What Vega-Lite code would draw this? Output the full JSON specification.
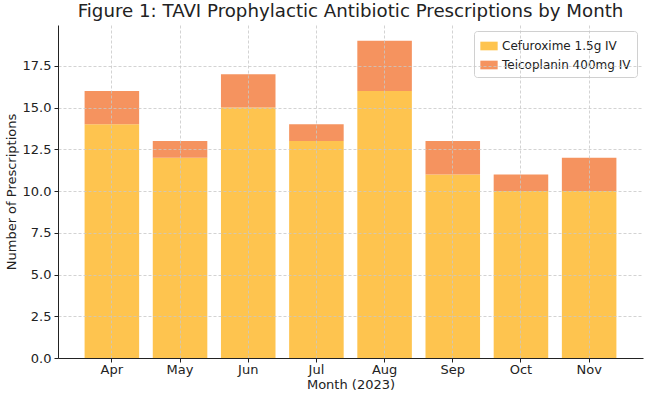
{
  "$schema": "https://vega.github.io/schema/vega-lite/v6.json",
  "width": 585,
  "height": 333,
  "autosize": {"type": "none"},
  "padding": {"left": 58, "top": 25, "right": 7, "bottom": 38},
  "config": {
    "font": "DejaVu Sans",
    "view": {"stroke": null},
    "axis": {
      "labelFont": "DejaVu Sans",
      "titleFont": "DejaVu Sans",
      "labelFontSize": 13,
      "titleFontSize": 13,
      "labelColor": "#222",
      "titleColor": "#222",
      "titleFontWeight": "normal",
      "domainColor": "#222",
      "tickColor": "#222",
      "gridColor": "#c8c8c8",
      "gridDash": [3, 2],
      "gridWidth": 0.8
    }
  },
  "title": {
    "text": "Figure 1: TAVI Prophylactic Antibiotic Prescriptions by Month",
    "font": "DejaVu Sans",
    "fontSize": 18.2,
    "fontWeight": "normal",
    "color": "#222",
    "offset": 4,
    "anchor": "middle"
  },
  "data": {
    "values": [
      {"month": "Apr", "drug": "Cefuroxime 1.5g IV", "n": 14, "o": 1},
      {"month": "Apr", "drug": "Teicoplanin 400mg IV", "n": 2, "o": 2},
      {"month": "May", "drug": "Cefuroxime 1.5g IV", "n": 12, "o": 1},
      {"month": "May", "drug": "Teicoplanin 400mg IV", "n": 1, "o": 2},
      {"month": "Jun", "drug": "Cefuroxime 1.5g IV", "n": 15, "o": 1},
      {"month": "Jun", "drug": "Teicoplanin 400mg IV", "n": 2, "o": 2},
      {"month": "Jul", "drug": "Cefuroxime 1.5g IV", "n": 13, "o": 1},
      {"month": "Jul", "drug": "Teicoplanin 400mg IV", "n": 1, "o": 2},
      {"month": "Aug", "drug": "Cefuroxime 1.5g IV", "n": 16, "o": 1},
      {"month": "Aug", "drug": "Teicoplanin 400mg IV", "n": 3, "o": 2},
      {"month": "Sep", "drug": "Cefuroxime 1.5g IV", "n": 11, "o": 1},
      {"month": "Sep", "drug": "Teicoplanin 400mg IV", "n": 2, "o": 2},
      {"month": "Oct", "drug": "Cefuroxime 1.5g IV", "n": 10, "o": 1},
      {"month": "Oct", "drug": "Teicoplanin 400mg IV", "n": 1, "o": 2},
      {"month": "Nov", "drug": "Cefuroxime 1.5g IV", "n": 10, "o": 1},
      {"month": "Nov", "drug": "Teicoplanin 400mg IV", "n": 2, "o": 2}
    ]
  },
  "mark": {"type": "bar"},
  "encoding": {
    "x": {
      "field": "month",
      "type": "nominal",
      "sort": ["Apr", "May", "Jun", "Jul", "Aug", "Sep", "Oct", "Nov"],
      "scale": {"paddingInner": 0.2, "paddingOuter": 0.39},
      "axis": {
        "title": "Month (2023)",
        "labelAngle": 0,
        "labelPadding": 1,
        "titlePadding": 2,
        "tickSize": 4,
        "bandPosition": 0.5,
        "grid": true,
        "zindex": 1
      }
    },
    "y": {
      "field": "n",
      "type": "quantitative",
      "aggregate": "sum",
      "stack": "zero",
      "scale": {"domain": [0, 19.95], "nice": false},
      "axis": {
        "title": "Number of Prescriptions",
        "values": [0, 2.5, 5, 7.5, 10, 12.5, 15, 17.5],
        "format": ".1f",
        "tickSize": 4,
        "labelPadding": 3,
        "titlePadding": 4,
        "zindex": 1
      }
    },
    "color": {
      "field": "drug",
      "type": "nominal",
      "scale": {"domain": ["Cefuroxime 1.5g IV", "Teicoplanin 400mg IV"], "range": ["#fec44f", "#f5935f"]},
      "legend": {
        "title": null,
        "orient": "top-right",
        "offset": 6,
        "labelFont": "DejaVu Sans",
        "labelFontSize": 12,
        "labelColor": "#222",
        "symbolType": "M-1,-0.5L1,-0.5L1,0.5L-1,0.5Z",
        "symbolSize": 300,
        "symbolStrokeWidth": 0,
        "symbolOpacity": 1,
        "fillColor": "white",
        "strokeColor": "#d0d0d0",
        "padding": 6,
        "cornerRadius": 3,
        "rowPadding": 4
      }
    },
    "order": {"field": "o", "type": "quantitative"}
  }
}
